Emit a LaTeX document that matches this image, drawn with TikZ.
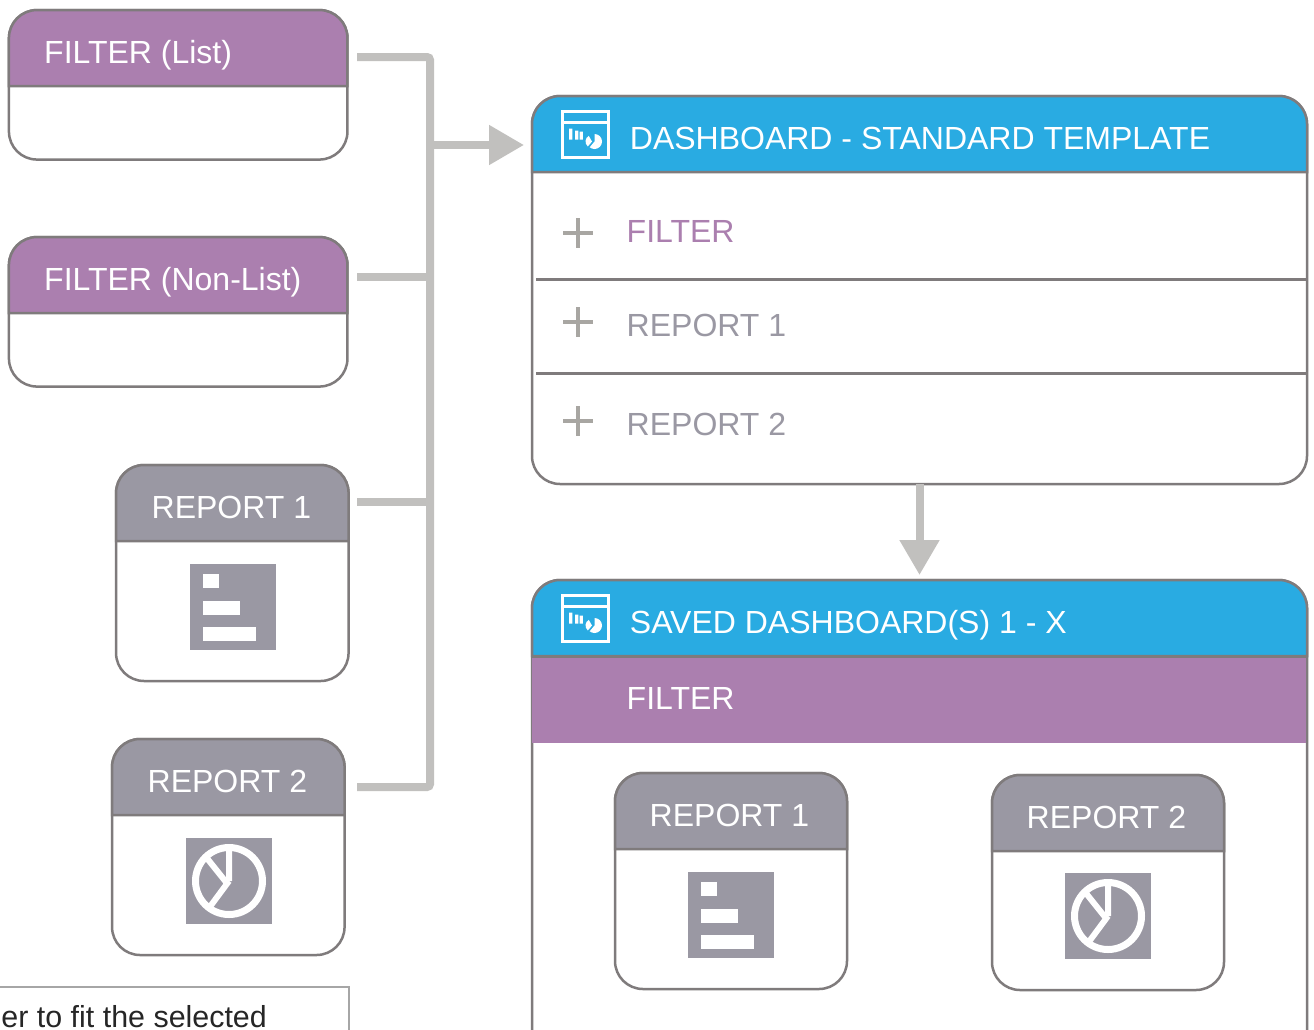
\documentclass[tikz,border=0pt]{standalone}
\usepackage{fontspec}
\setmainfont{Liberation Sans}
\usetikzlibrary{arrows.meta,calc}
\definecolor{filterpurple}{HTML}{AB7FAF}
\definecolor{dashblue}{HTML}{29ABE2}
\definecolor{reportgrey}{HTML}{9A98A3}
\definecolor{edgegrey}{HTML}{7F7B7C}
\definecolor{busgrey}{HTML}{C1C0BE}
\definecolor{plusgrey}{HTML}{A8A6A2}
\tikzstyle{card} = [rectangle, rounded corners=28, draw=edgegrey, line width=2.5, fill=white, inner sep=0, outer sep=0]
\tikzstyle{head} = [draw=edgegrey, line width=2.5]
\tikzstyle{title} = [anchor=base west, inner sep=0, text=white, font=\fontsize{32}{37}\selectfont]
\tikzstyle{entry} = [title, text=reportgrey]
\tikzstyle{iconbox} = [rectangle, fill=reportgrey, inner sep=0, outer sep=0, minimum size=86]
\tikzstyle{bus} = [busgrey, line width=8]
\tikzstyle{arrow} = [bus, -{Triangle[length=35,width=38]}]
\tikzstyle{divider} = [edgegrey, line width=3]
\tikzstyle{plus} = [plusgrey, line width=3.5]
\newcommand{\cardhead}[3]{
  \draw [head, fill=#3] (#1.west |- 0,#2) -- ([yshift=-28]#1.north west) arc (180:270:28) -- ([xshift=-28]#1.north east) arc (270:360:28) -- (#1.east |- 0,#2) -- cycle;
}
\newcommand{\barsicon}[1]{
  \fill [white] ($(#1.north west)+(12.5,10)$) rectangle +(16,14);
  \fill [white] ($(#1.north west)+(12.5,36.5)$) rectangle +(37,14);
  \fill [white] ($(#1.north west)+(12.5,63)$) rectangle +(53,14);
}
\newcommand{\pieicon}[1]{
  \draw [white, line width=7] (#1.center) circle (33.5);
  \draw [white, line width=6] (#1.center) -- +(0,-33) (#1.center) -- +(-20,27) (#1.center) ++(-3,1) -- +(-20,-25);
}
\newcommand{\dashicon}[2]{
  \draw [white, line width=3] (#1,#2) rectangle +(46,45.5) (#1,#2+11) -- +(46,0);
  \fill [white] (#1+7,#2+17) rectangle +(3.3,11) (#1+13,#2+19) rectangle +(3.3,9) (#1+17.5,#2+20) rectangle +(3.3,8);
  \fill [white] (#1+32.5,#2+30) -- +(-90:7.5) arc (-90:130:7.5) -- cycle;
  \fill [white] (#1+30,#2+30) -- +(130:6.5) arc (130:240:6.5) -- cycle;
}
\newcommand{\plussign}[2]{
  \draw [plus] (#1-15,#2) -- (#1+15,#2) (#1,#2-15) -- (#1,#2+15);
}

\begin{document}
\begin{tikzpicture}[x=1pt,y=-1pt]
  \clip (0,0) rectangle (1314,1029);
  \fill [white] (0,0) rectangle (1314,1029);

  % source cards
  \node (filterlist) [card, minimum width=338.5, minimum height=149.5] at (178.2,84.8) {};
  \cardhead{filterlist}{86}{filterpurple}
  \node (filterlisttext) [title] at (44,63) {FILTER (List)};

  \node (filternonlist) [card, minimum width=338.5, minimum height=149.5] at (178.2,311.8) {};
  \cardhead{filternonlist}{313}{filterpurple}
  \node (filternonlisttext) [title] at (44,290) {FILTER (Non-List)};

  \node (reportone) [card, minimum width=232.5, minimum height=216] at (232.3,573) {};
  \cardhead{reportone}{541}{reportgrey}
  \node (reportonetext) [title] at (151.5,518) {REPORT 1};
  \node (reportoneicon) [iconbox] at (233,607) {};
  \barsicon{reportoneicon}

  \node (reporttwo) [card, minimum width=232.5, minimum height=216] at (228.3,847) {};
  \cardhead{reporttwo}{815}{reportgrey}
  \node (reporttwotext) [title] at (147.5,792) {REPORT 2};
  \node (reporttwoicon) [iconbox] at (229,881) {};
  \pieicon{reporttwoicon}

  % note, cut off by the page
  \node (note) [rectangle, draw=black!35, line width=2.5, inner sep=0, minimum width=400, minimum height=100, anchor=north east] at (350,985.5) {};
  \node (notetext) [anchor=base east, inner sep=0, text=black!85, font=\fontsize{30.4}{35}\selectfont] at (267,1027.5) {er to fit the selected};

  % dashboard template
  \node (dashboard) [card, minimum width=775, minimum height=388] at (919.5,290) {};
  \cardhead{dashboard}{172}{dashblue}
  \dashicon{562}{111.5}
  \node (dashboardtext) [title] at (629.7,149) {DASHBOARD - STANDARD TEMPLATE};
  \draw [divider] (536,279) -- (dashboard.east |- 0,279);
  \draw [divider] (536,373.5) -- (dashboard.east |- 0,373.5);
  \plussign{578}{233}
  \plussign{578}{322}
  \plussign{578}{421}
  \node (templatefilter) [entry, text=filterpurple] at (626.5,242) {FILTER};
  \node (templateone) [entry] at (626.5,336) {REPORT 1};
  \node (templatetwo) [entry] at (626.5,435) {REPORT 2};

  % saved dashboards
  \node (saved) [card, minimum width=775, minimum height=500] at (919.5,830) {};
  \cardhead{saved}{656}{dashblue}
  \dashicon{562}{595.5}
  \node (savedtext) [title] at (629.7,633) {SAVED DASHBOARD(S) 1 - X};
  \fill [filterpurple] (saved.west |- 0,656) rectangle ([xshift=-1.2]saved.east |- 0,743);
  \draw [divider] (saved.west |- 0,656) -- (saved.east |- 0,656);
  \node (savedfilter) [title] at (626.5,709) {FILTER};

  \node (savedone) [card, minimum width=232, minimum height=216] at (731,881) {};
  \cardhead{savedone}{849}{reportgrey}
  \node (savedonetext) [title] at (649.5,826) {REPORT 1};
  \node (savedoneicon) [iconbox] at (731,915) {};
  \barsicon{savedoneicon}

  \node (savedtwo) [card, minimum width=232, minimum height=215] at (1108,882.5) {};
  \cardhead{savedtwo}{851}{reportgrey}
  \node (savedtwotext) [title] at (1026.5,828) {REPORT 2};
  \node (savedtwoicon) [iconbox] at (1108,916) {};
  \pieicon{savedtwoicon}

  % connectors
  \coordinate (listout) at (357,57);
  \coordinate (nonlistout) at (357,276.5);
  \coordinate (oneout) at (357,502);
  \coordinate (twoout) at (357,787);
  \coordinate (busin) at (430,145);
  \draw [bus, rounded corners=3] (listout) -| (twoout -| busin) -- (twoout);
  \draw [bus] (nonlistout) -- (nonlistout -| busin);
  \draw [bus] (oneout) -- (oneout -| busin);
  \draw [arrow, shorten >=8] (busin) -- (busin -| dashboard.west);
  \draw [arrow, shorten >=5] (dashboard.south) -- (saved.north);
\end{tikzpicture}
\end{document}
